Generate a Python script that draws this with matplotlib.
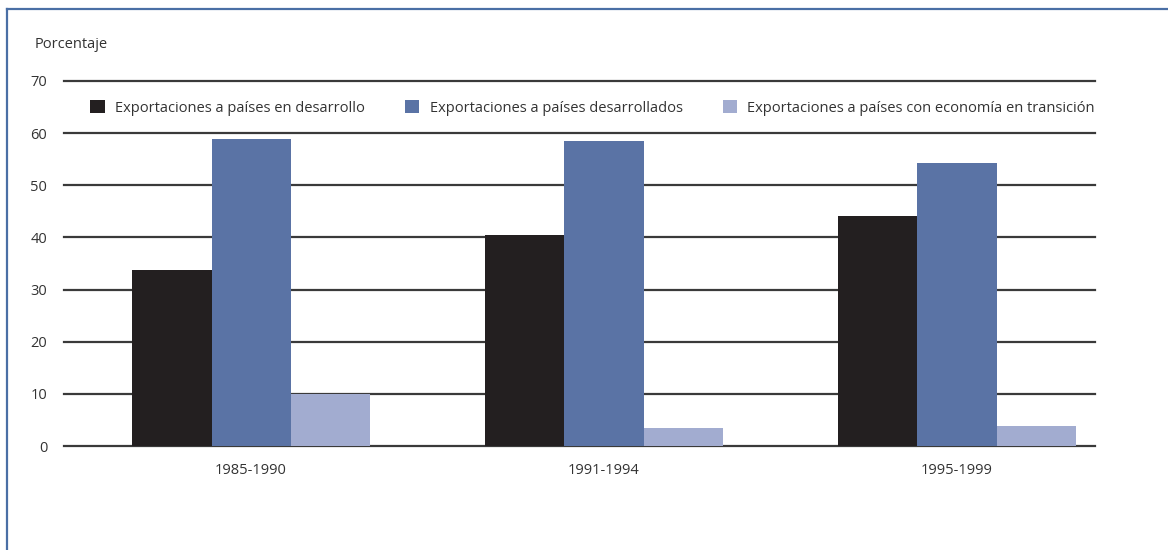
import numpy as np
import matplotlib
matplotlib.use('Agg')
import matplotlib.pyplot as plt
from matplotlib.lines import Line2D
from matplotlib.patches import Patch

periods = ['1985-1990', '1991-1994', '1995-1999']
series_names = ['Exportaciones a países en desarrollo',
                'Exportaciones a países desarrollados',
                'Exportaciones a países con economía en transición']
en_desarrollo = [33.8, 40.4, 44.2]
desarrollados = [58.8, 58.5, 54.2]
en_transicion = [10.0, 3.5, 3.8]
yticks = [0, 10, 20, 30, 40, 50, 60, 70]

colors = ['#231f20', '#5a73a5', '#a2acd0']
text_color = '#333333'
fs = 10.5

plt.rcParams['font.family'] = ['Open Sans', 'DejaVu Sans']

fig = plt.figure(figsize=(11.68, 5.5), dpi=100)
ax = fig.add_axes([64/1168, 1-446/550, (1095-64)/1168, (446-81)/550])

x = np.arange(len(periods))
w = 0.224
values = [en_desarrollo, desarrollados, en_transicion]
for i, vals in enumerate(values):
    ax.bar(x + (i - 1)*w, vals, width=w, color=colors[i], zorder=2, linewidth=0)

ax.set_ylim(0, 70)
ax.set_xlim(-0.530, 2.391)
ax.set_yticks(yticks)
ax.set_xticks(x)
ax.set_xticklabels(periods)
ax.tick_params(length=0, labelsize=fs, colors=text_color)
ax.tick_params(axis='y', pad=12)
ax.tick_params(axis='x', pad=12)
for s in ax.spines.values():
    s.set_visible(False)
ax.grid(axis='y', color='#3a3a3a', linewidth=1.6, zorder=1)
for gl in ax.get_ygridlines():
    gl.set_clip_on(False)
ax.set_axisbelow(True)

fig.text(35/1168, 1-45/550, 'Porcentaje', fontsize=fs, color=text_color, va='center')

handles = [Patch(facecolor=c, edgecolor='none') for c in colors]
leg = ax.legend(handles, series_names, ncol=3, loc='center left',
                bbox_to_anchor=((90-64)/1031, (446-108)/365), frameon=False,
                fontsize=fs, handlelength=1.0, handleheight=1.0, handletextpad=0.7,
                columnspacing=2.75, borderaxespad=0, borderpad=0)
for t in leg.get_texts():
    t.set_color(text_color)

# blue frame (top and left edges)
fig.add_artist(Line2D([7/1168, 1], [1-9/550, 1-9/550], color='#4a6fa5', lw=1.6))
fig.add_artist(Line2D([7/1168, 7/1168], [0, 1-9/550], color='#4a6fa5', lw=1.6))

fig.savefig('out.png', dpi=100)
